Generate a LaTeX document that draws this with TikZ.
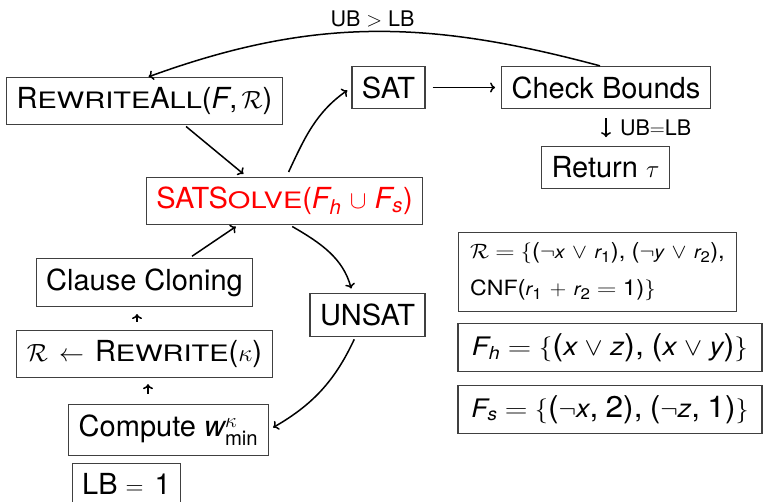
\documentclass[tikz,border=0pt]{standalone}
\usepackage{amsmath}
\usepackage{graphicx}
\usepackage{fontspec}
\setmainfont{TeX Gyre Heros}
\usetikzlibrary{calc,arrows.meta}
% sans-serif letters and punctuation inside formulas
\newcommand\lsc{1}
\newcommand\mi[1]{\text{\scalebox{\lsc}{\itshape #1}}}
\newcommand\mn[1]{\textup{#1}}
\newcommand\lp{\text{(}}
\newcommand\rp{\text{)}}
\newcommand\cm{\text{,}\;}
% a slightly wider equals sign for the example formulas
\newcommand\Eq{\mathrel{\scalebox{1.2}[1]{$=$}}}
% small capitals drawn from scaled capitals
\newcommand\SC[1]{\scalebox{1.0}[0.78]{#1}}
% widened formula line
\newcommand\wide[2]{\scalebox{#1}[1]{#2}}
\begin{document}
\begin{tikzpicture}[x=1pt,y=1pt,
  box/.style={draw=black!75, line width=1.1pt, inner sep=10pt,
              font=\fontsize{29}{33}\selectfont},
  flow/.style={box, execute at begin node={\medmuskip=6mu plus 2mu minus 2mu\thickmuskip=8mu plus 3mu}},
  formula/.style={box, execute at begin node={\renewcommand\lsc{0.85}\medmuskip=5mu}},
  bigbox/.style={formula, font=\fontsize{30}{34}\selectfont, minimum width=304pt},
  note/.style={font=\fontsize{21.5}{24}\selectfont},
  arr/.style={-{To[length=5pt,width=10pt]}, line width=1.5pt}]
\useasboundingbox (0,0) rectangle (764,-502);

% flow nodes
\node[flow] (rwa) at (144.5,-101) {R\SC{EWRITE}A\SC{LL}$\lp\mi{F}\text{,}\,\mathcal{R}\rp$};
\node[flow] (sat) at (388.5,-87.5) {SAT};
\node[flow] (cb) at (606,-87.5) {Check Bounds};
\node[flow] (ret) at (605.5,-167.5) {Return $\tau$};
\node[flow, text=red] (solve) at (284.5,-201) {SATS\SC{OLVE}$\lp\mi{F}_{\mi{h}}\cup \mi{F}_{\mi{s}}\rp$};
\node[flow] (clone) at (144.5,-282.5) {Clause Cloning};
\node[flow] (rw) at (144.5,-354) {$\mathcal{R}\leftarrow{}$R\SC{EWRITE}$\lp\kappa\rp$};
\node[flow] (cmp) at (168.5,-430) {Compute $\mi{w}^{\kappa}_{\mn{min}}$};
\node[flow] (lb) at (126.5,-484) {LB $=\mn{1}$};
\node[flow] (unsat) at (367.5,-315) {UNSAT};

% example formulas
\node[formula, font=\fontsize{22}{37}\selectfont, align=left, inner xsep=12pt,
      execute at begin node={\renewcommand\lsc{0.82}\medmuskip=6mu}] (rdef) at (597.5,-272)
  {\wide{1.08}{$\mathcal{R}\Eq\{\lp\neg\mi{x}\vee\mi{r}_{\mn{1}}\rp\cm\lp\neg\mi{y}\vee\mi{r}_{\mn{2}}\rp\text{,}$}\\
   \wide{1.1}{{\fontsize{21}{37}\selectfont CNF}$\lp\mi{r}_{\mn{1}}+\mi{r}_{\mn{2}}\Eq\mn{1}\rp\}$}};
\node[bigbox] (fh) at (610,-347.5)
  {\wide{1.09}{$\mi{F}_{\mi{h}}\Eq\{\lp\mi{x}\vee\mi{z}\rp\cm\lp\mi{x}\vee\mi{y}\rp\}$}};
\node[bigbox] (fs) at (610,-409.5)
  {\wide{1.055}{$\mi{F}_{\mi{s}}\Eq\{\lp\neg\mi{x}\cm\mn{2}\rp\cm\lp\neg\mi{z}\cm\mn{1}\rp\}$}};

% connectors
\draw[arr] ([xshift=-6pt]cb.north) to[out=165,in=20]
  node[note, above, pos=0.5] {UB $>$ LB} ([xshift=4pt]rwa.north);
\draw[arr, shorten <=2pt, shorten >=4pt] ([xshift=40pt]rwa.south) -- ([xshift=-38pt]solve.north);
\draw[arr, shorten <=5pt, shorten >=5pt] ([xshift=2pt]solve.north) to[out=65,in=215] (sat.west);
\draw[arr, shorten <=7pt, shorten >=6pt] (sat.east) -- (cb.west);
\draw[arr, shorten <=9pt, shorten >=9pt] (cb.south) -- (cb.south |- ret.north)
  node[note, right, midway, xshift=10pt] {UB$=$LB};
\draw[arr, shorten <=2pt, shorten >=5pt] ([xshift=6pt]solve.south) to[out=-30,in=105] ([xshift=-15pt]unsat.north);
\draw[arr, shorten <=3pt, shorten >=5pt] ([xshift=-12pt]unsat.south) to[out=-115,in=30] (cmp.east);
\coordinate (c1) at (148,0);
\coordinate (c2) at (137,0);
\draw[arr, shorten <=10pt, shorten >=6pt] (cmp.north -| c1) -- (rw.south -| c1);
\draw[arr, shorten <=8pt, shorten >=7pt] (rw.north -| c2) -- (clone.south -| c2);
\draw[arr, shorten <=3pt, shorten >=2pt] ([xshift=45pt]clone.north) -- ([xshift=-47pt]solve.south);
\end{tikzpicture}
\end{document}
